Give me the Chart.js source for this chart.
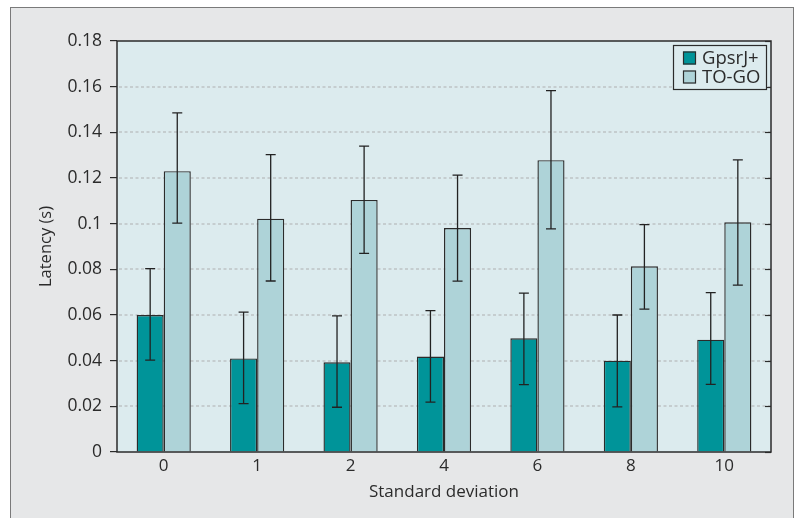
<!DOCTYPE html>
<html>
<head>
<meta charset="utf-8">
<script src="https://cdn.jsdelivr.net/npm/chart.js@4/dist/chart.umd.min.js"></script>
<style>
  html, body { margin: 0; padding: 0; background: #fff; }
  #wrap { position: relative; width: 797px; height: 518px; overflow: hidden; }
  #frame {
    position: absolute; left: 10px; top: 7px; width: 782px; height: 530px;
    background: #e6e7e8; border: 1px solid #7a7a7a;
  }
  #chart { position: absolute; left: 0; top: 0; }
</style>
</head>
<body>
<div id="wrap">
  <div id="frame"></div>
  <canvas id="chart" width="797" height="518"></canvas>
</div>
<script>
const categories = ['0', '1', '2', '4', '6', '8', '10'];
const seriesNames = ['GpsrJ+', 'TO-GO'];

const gpsrValues = [0.060, 0.041, 0.0393, 0.0418, 0.0498, 0.040, 0.0492];
const gpsrLow    = [0.0402, 0.0212, 0.0196, 0.0218, 0.0295, 0.0198, 0.0296];
const gpsrHigh   = [0.0803, 0.0613, 0.0596, 0.0619, 0.0696, 0.060, 0.0698];

const togoValues = [0.123, 0.1022, 0.1104, 0.0981, 0.1278, 0.0813, 0.1006];
const togoLow    = [0.1002, 0.0749, 0.087, 0.0748, 0.0977, 0.0626, 0.0731];
const togoHigh   = [0.1485, 0.1302, 0.134, 0.1213, 0.1583, 0.0996, 0.1279];

const yMax = 0.18;
const yStep = 0.02;

const FONT = "'Open Sans', 'Noto Sans', sans-serif";
const INK = '#2b2b2b';

// error bars, gridlines, frame, inner ticks and legend
const extras = {
  id: 'extras',
  beforeDatasetsDraw(chart) {
    const { ctx, chartArea: a, scales: { y } } = chart;
    ctx.save();
    ctx.fillStyle = '#dcebee';
    ctx.fillRect(a.left, a.top, a.right - a.left, a.bottom - a.top);
    ctx.strokeStyle = '#c5cdcf';
    ctx.lineWidth = 2;
    ctx.setLineDash([3, 2.5]);
    y.ticks.forEach(t => {
      if (t.value <= 0 || t.value >= yMax - 1e-9) return;
      const py = Math.round(y.getPixelForValue(t.value));
      ctx.beginPath();
      ctx.moveTo(a.left + 2, py);
      ctx.lineTo(a.right, py);
      ctx.stroke();
    });
    ctx.restore();
  },
  afterDatasetsDraw(chart) {
    const { ctx, chartArea: a, scales: { y } } = chart;
    ctx.save();
    ctx.strokeStyle = '#222';
    ctx.lineWidth = 1.3;
    chart.data.datasets.forEach((ds, i) => {
      const meta = chart.getDatasetMeta(i);
      meta.data.forEach((bar, j) => {
        const x = bar.x;
        const yl = y.getPixelForValue(ds.errLow[j]);
        const yh = y.getPixelForValue(ds.errHigh[j]);
        ctx.beginPath();
        ctx.moveTo(x, yl); ctx.lineTo(x, yh);
        ctx.moveTo(x - 5, yl); ctx.lineTo(x + 5, yl);
        ctx.moveTo(x - 5, yh); ctx.lineTo(x + 5, yh);
        ctx.stroke();
      });
    });

    // plot frame
    ctx.strokeStyle = INK;
    ctx.lineWidth = 1.5;
    ctx.strokeRect(a.left, a.top, a.right - a.left, a.bottom - a.top);

    // inner ticks on right side
    ctx.lineWidth = 1.2;
    y.ticks.forEach(t => {
      const py = Math.round(y.getPixelForValue(t.value)) + 0.5;
      ctx.beginPath();
      ctx.moveTo(a.right - 6, py);
      ctx.lineTo(a.right, py);
      ctx.stroke();
    });

    // legend box
    const lx = 673, ly = 45, lw = 93, lh = 44;
    ctx.fillStyle = '#dcebee';
    ctx.fillRect(lx, ly, lw, lh);
    ctx.strokeStyle = INK;
    ctx.lineWidth = 1.2;
    ctx.strokeRect(lx + 0.5, ly + 0.5, lw, lh);
    ctx.font = '18.5px ' + FONT;
    ctx.textBaseline = 'middle';
    chart.data.datasets.forEach((ds, i) => {
      const cy = ly + 13 + i * 19;
      ctx.fillStyle = ds.backgroundColor;
      ctx.fillRect(lx + 10, cy - 6.5, 13, 13);
      ctx.strokeStyle = INK;
      ctx.strokeRect(lx + 10.5, cy - 6, 12, 12);
      ctx.fillStyle = INK;
      ctx.fillText(ds.label, lx + 29, cy + 1);
    });
    ctx.restore();
  }
};

new Chart(document.getElementById('chart'), {
  type: 'bar',
  data: {
    labels: categories,
    datasets: [
      {
        label: seriesNames[0],
        data: gpsrValues,
        errLow: gpsrLow,
        errHigh: gpsrHigh,
        backgroundColor: '#009499',
        borderColor: INK,
        borderWidth: 1.4
      },
      {
        label: seriesNames[1],
        data: togoValues,
        errLow: togoLow,
        errHigh: togoHigh,
        backgroundColor: '#aed3d8',
        borderColor: INK,
        borderWidth: 1.4
      }
    ]
  },
  options: {
    responsive: false,
    animation: false,
    layout: { padding: { left: 32, right: 26, top: 41, bottom: 12 } },
    plugins: {
      legend: { display: false },
      tooltip: { enabled: false }
    },
    datasets: {
      bar: { categoryPercentage: 0.58, barPercentage: 1.0 }
    },
    scales: {
      x: {
        grid: { display: false, drawTicks: false },
        border: { display: false },
        ticks: { color: INK, font: { family: FONT, size: 17 }, padding: 4 },
        title: {
          display: true, text: 'Standard deviation', color: INK,
          font: { family: FONT, size: 17 }, padding: { top: 0, bottom: 4 }
        },
        afterFit(s) { s.height = 54; }
      },
      y: {
        min: 0,
        max: yMax,
        border: { display: false },
        grid: { drawOnChartArea: false, drawTicks: true, tickLength: 7, color: INK, lineWidth: 1.2 },
        ticks: {
          stepSize: yStep,
          color: INK,
          padding: 8,
          font: { family: FONT, size: 17.5 },
          callback: v => String(Number(v.toFixed(2)))
        },
        title: {
          display: true, text: 'Latency (s)', color: INK,
          font: { family: FONT, size: 16.5 }, padding: 4
        },
        afterFit(s) { s.width = 85; }
      }
    }
  },
  plugins: [extras]
});
</script>
</body>
</html>
